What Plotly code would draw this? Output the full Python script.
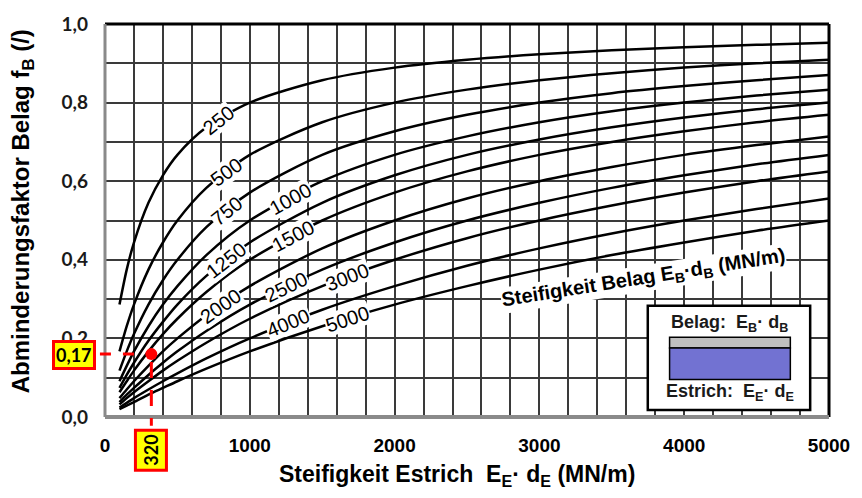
import plotly.graph_objects as go

# ---------------- data ----------------
x_estrich = [100, 150, 200, 300, 400, 500, 700, 1000, 1500, 2000, 2500, 3000, 3500, 4000, 4500, 5000]

belag_names = ["250", "500", "750", "1000", "1250", "1500", "2000", "2500", "3000", "4000", "5000"]

f_250 = [0.286, 0.375, 0.444, 0.545, 0.615, 0.667, 0.737, 0.800, 0.857, 0.889, 0.909, 0.923, 0.933, 0.941, 0.947, 0.952]
f_500 = [0.167, 0.231, 0.286, 0.375, 0.444, 0.500, 0.583, 0.667, 0.750, 0.800, 0.833, 0.857, 0.875, 0.889, 0.900, 0.909]
f_750 = [0.118, 0.167, 0.211, 0.286, 0.348, 0.400, 0.483, 0.571, 0.667, 0.727, 0.769, 0.800, 0.824, 0.842, 0.857, 0.870]
f_1000 = [0.091, 0.130, 0.167, 0.231, 0.286, 0.333, 0.412, 0.500, 0.600, 0.667, 0.714, 0.750, 0.778, 0.800, 0.818, 0.833]
f_1250 = [0.074, 0.107, 0.138, 0.194, 0.242, 0.286, 0.359, 0.444, 0.545, 0.615, 0.667, 0.706, 0.737, 0.762, 0.783, 0.800]
f_1500 = [0.063, 0.091, 0.118, 0.167, 0.211, 0.250, 0.318, 0.400, 0.500, 0.571, 0.625, 0.667, 0.700, 0.727, 0.750, 0.769]
f_2000 = [0.048, 0.070, 0.091, 0.130, 0.167, 0.200, 0.259, 0.333, 0.429, 0.500, 0.556, 0.600, 0.636, 0.667, 0.692, 0.714]
f_2500 = [0.038, 0.057, 0.074, 0.107, 0.138, 0.167, 0.219, 0.286, 0.375, 0.444, 0.500, 0.545, 0.583, 0.615, 0.643, 0.667]
f_3000 = [0.032, 0.048, 0.063, 0.091, 0.118, 0.143, 0.189, 0.250, 0.333, 0.400, 0.455, 0.500, 0.538, 0.571, 0.600, 0.625]
f_4000 = [0.024, 0.036, 0.048, 0.070, 0.091, 0.111, 0.149, 0.200, 0.273, 0.333, 0.385, 0.429, 0.467, 0.500, 0.529, 0.556]
f_5000 = [0.020, 0.029, 0.038, 0.057, 0.074, 0.091, 0.123, 0.167, 0.231, 0.286, 0.333, 0.375, 0.412, 0.444, 0.474, 0.500]

all_curves = [f_250, f_500, f_750, f_1000, f_1250, f_1500, f_2000, f_2500, f_3000, f_4000, f_5000]

# where each curve label sits (x position along the curve) and its tilt
label_x = [787, 841, 841, 1279, 841, 1300, 800, 1252, 1676, 1265, 1676]
label_angle = [-38, -36, -39, -29, -38, -28, -35, -26, -21, -22, -18]

y_ticks = [0.0, 0.2, 0.4, 0.6, 0.8, 1.0]
y_ticktext = ["0,0", "0,2", "0,4", "0,6", "0,8", "1,0"]
x_ticks = [0, 1000, 2000, 3000, 4000, 5000]
x_ticktext = ["0", "1000", "2000", "3000", "4000", "5000"]

example_x = 320
example_y = 0.16
example_text_y = "0,17"
example_text_x = "320"


def interp(xq, xs, ys):
    for i in range(len(xs) - 1):
        if xs[i] <= xq <= xs[i + 1]:
            t = (xq - xs[i]) / (xs[i + 1] - xs[i])
            return ys[i] + t * (ys[i + 1] - ys[i])
    return ys[-1]


fig = go.Figure()

for name, ys in zip(belag_names, all_curves):
    fig.add_trace(go.Scatter(
        x=x_estrich, y=ys, mode="lines", name=name,
        line=dict(color="black", width=2.5, shape="spline", smoothing=0.8),
        showlegend=False, hoverinfo="skip",
    ))

# red example point
fig.add_trace(go.Scatter(
    x=[example_x], y=[example_y], mode="markers",
    marker=dict(color="#ff0000", size=12), cliponaxis=False,
    showlegend=False, hoverinfo="skip",
))

C = dict(xanchor="center", yanchor="middle", showarrow=False)
annotations = []
# curve labels
for name, ys, lx, ang in zip(belag_names, all_curves, label_x, label_angle):
    annotations.append(dict(
        x=lx, y=interp(lx, x_estrich, ys), xref="x", yref="y",
        text=name, textangle=ang,
        font=dict(family="Liberation Sans, Arial", size=20, color="black"),
        bgcolor="white", borderpad=0, **C,
    ))

# curve family title
annotations.append(dict(
    x=3721, y=0.353, xref="x", yref="y",
    text="Steifigkeit Belag E<sub>B</sub>·d<sub>B</sub> (MN/m)",
    textangle=-9,
    font=dict(family="Liberation Sans, Arial", size=20, color="black", weight="bold"),
    bgcolor="white", borderpad=0, **C,
))

# inset texts
annotations.append(dict(
    x=0.863, y=0.238, xref="paper", yref="paper",
    text="Belag:\u00a0\u00a0E<sub>B</sub>·\u00a0d<sub>B</sub>",
    font=dict(family="Liberation Sans, Arial", size=18, color="#1a1a1a", weight="bold"), **C,
))
annotations.append(dict(
    x=0.863, y=0.063, xref="paper", yref="paper",
    text="Estrich:\u00a0\u00a0E<sub>E</sub>·\u00a0d<sub>E</sub>",
    font=dict(family="Liberation Sans, Arial", size=18, color="#1a1a1a", weight="bold"), **C,
))

# red/yellow example boxes
annotations.append(dict(
    x=-0.0424, y=0.158, xref="paper", yref="y",
    text=example_text_y,
    font=dict(family="Lato, Liberation Sans", size=18, color="black", weight="bold"),
    bgcolor="#ffff00", bordercolor="#ff0000", borderwidth=3, borderpad=1, **C,
))
annotations.append(dict(
    x=example_x, y=-0.085, xref="x", yref="paper",
    text=example_text_x, textangle=-90,
    font=dict(family="Lato, Liberation Sans", size=18, color="black", weight="bold"),
    bgcolor="#ffff00", bordercolor="#ff0000", borderwidth=3, borderpad=3, **C,
))

# axis titles
annotations.append(dict(
    x=0.486, y=-0.148, xref="paper", yref="paper",
    text="Steifigkeit Estrich\u00a0\u00a0E<sub>E</sub>·\u00a0d<sub>E</sub> (MN/m)",
    font=dict(family="Liberation Sans, Arial", size=23, color="black", weight="bold"), **C,
))
annotations.append(dict(
    x=-0.1135, y=0.523, xref="paper", yref="paper",
    text="Abminderungsfaktor Belag f<sub>B</sub> (/)",
    textangle=-90,
    font=dict(family="Liberation Sans, Arial", size=24, color="black", weight="bold"), **C,
))

shapes = [
    # inset box
    dict(type="rect", xref="paper", yref="paper", x0=0.7497, x1=0.974, y0=0.0175, y1=0.2832,
         fillcolor="white", line=dict(color="black", width=2.5), layer="above"),
    dict(type="rect", xref="paper", yref="paper", x0=0.7798, x1=0.9466, y0=0.1754, y1=0.203,
         fillcolor="#bfbfbf", line=dict(color="black", width=1.5), layer="above"),
    dict(type="rect", xref="paper", yref="paper", x0=0.7798, x1=0.9466, y0=0.0952, y1=0.1754,
         fillcolor="#7272d2", line=dict(color="black", width=1.5), layer="above"),
    # frame
    dict(type="line", xref="paper", yref="paper", x0=0, x1=1, y0=1, y1=1,
         line=dict(color="black", width=3), layer="above"),
    dict(type="line", xref="paper", yref="paper", x0=1, x1=1, y0=0, y1=1,
         line=dict(color="black", width=3), layer="above"),
    dict(type="line", xref="paper", yref="paper", x0=0, x1=0, y0=0, y1=1,
         line=dict(color="#8a8a8a", width=3), layer="above"),
    dict(type="line", xref="paper", yref="paper", x0=0, x1=1, y0=0, y1=0,
         line=dict(color="#8a8a8a", width=4), layer="above"),
    # red dashed guide lines
    dict(type="line", xref="paper", yref="y", x0=-0.007, x1=example_x / 5000 - 0.004,
         y0=example_y, y1=example_y,
         line=dict(color="#ff0000", width=3, dash="11px,12px"), layer="above"),
    dict(type="line", xref="x", yref="paper", x0=example_x, x1=example_x,
         y0=example_y - 0.02, y1=-0.022,
         line=dict(color="#ff0000", width=3, dash="16px,12px"), layer="above"),
]

fig.update_layout(
    width=862, height=498,
    margin=dict(l=105, r=26, t=18, b=81),
    paper_bgcolor="white", plot_bgcolor="white",
    annotations=annotations, shapes=shapes,
    xaxis=dict(
        range=[0, 5000], tickvals=x_ticks, ticktext=x_ticktext,
        showgrid=True, gridcolor="#3a3a3a", gridwidth=1.5,
        minor=dict(dtick=200, showgrid=True, gridcolor="#3a3a3a", gridwidth=1.5),
        zeroline=False, showline=False, ticks="",
        ticklabelstandoff=15,
        tickfont=dict(family="Liberation Sans, Arial", size=19, color="black", weight="bold"),
    ),
    yaxis=dict(
        range=[0, 1.0], tickvals=y_ticks, ticktext=y_ticktext,
        showgrid=True, gridcolor="#3a3a3a", gridwidth=1.5,
        minor=dict(dtick=0.1, showgrid=True, gridcolor="#3a3a3a", gridwidth=1.5),
        zeroline=False, showline=False, ticks="",
        ticklabelstandoff=16,
        tickfont=dict(family="Lato, Liberation Sans", size=19, color="#1a1a1a", weight="bold"),
    ),
)

fig.write_html("out.html")
